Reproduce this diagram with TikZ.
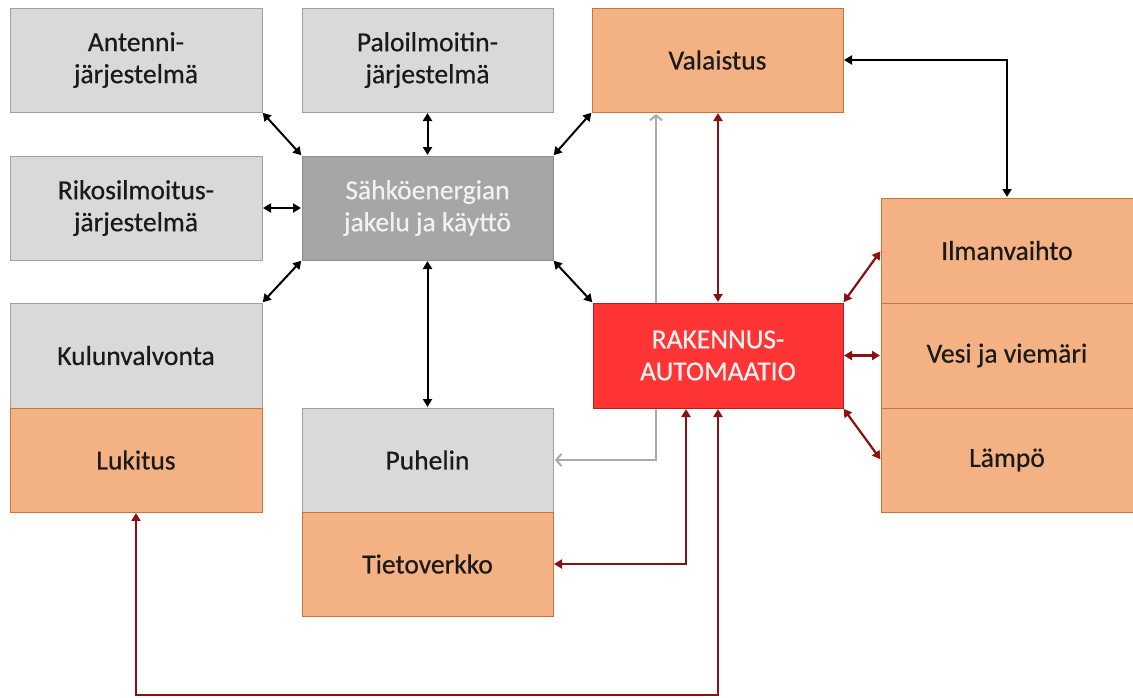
\documentclass[tikz,border=0pt]{standalone}
\usepackage{fontspec}
\setmainfont{Carlito}
\newfontfamily\labelfont{Carlito}[FakeBold=0.5]
\usetikzlibrary{arrows.meta}

\definecolor{boxgray}{HTML}{D9D9D9}
\definecolor{boxgrayline}{HTML}{A0A0A0}
\definecolor{darkgrayfill}{HTML}{A6A6A6}
\definecolor{darkgrayline}{HTML}{8C8C8C}
\definecolor{orangefill}{HTML}{F4B183}
\definecolor{orangeline}{HTML}{C9743A}
\definecolor{redfill}{HTML}{FF3535}
\definecolor{redline}{HTML}{B02020}
\definecolor{wine}{HTML}{8B1111}
\definecolor{linkgray}{HTML}{AAAAAA}
\definecolor{lighttext}{HTML}{F2F2F2}
\definecolor{darktext}{HTML}{1A1A1A}

\tikzset{
  unit/.style={rectangle, anchor=north west, inner sep=0pt, outer sep=0pt,
    line width=1pt, align=center, font=\labelfont\fontsize{27.5}{32}\selectfont,
    text=darktext},
  grayunit/.style={unit, fill=boxgray, draw=boxgrayline},
  orangeunit/.style={unit, fill=orangefill, draw=orangeline},
  powerunit/.style={unit, fill=darkgrayfill, draw=darkgrayline, text=lighttext},
  autounit/.style={unit, fill=redfill, draw=redline, text=lighttext},
  blacklink/.style={line width=2pt, black,
    {Triangle[length=8pt,width=9pt]}-{Triangle[length=8pt,width=9pt]}, shorten <=1pt, shorten >=1pt},
  winelink/.style={line width=2.2pt, wine,
    {Triangle[length=8pt,width=9pt]}-{Triangle[length=8pt,width=9pt]}, shorten <=1pt, shorten >=1pt},
  graylink/.style={line width=2pt, linkgray,
    {Straight Barb[length=5pt,width=12pt]}-{Straight Barb[length=5pt,width=12pt]}, shorten <=2pt, shorten >=2pt},
}

\begin{document}
\begin{tikzpicture}[x=1pt, y=-1pt]
\useasboundingbox (0,0) rectangle (1133,697);
\fill[white] (0,0) rectangle (1133,697);

% routing columns
\coordinate (gcol) at (656,0);
\coordinate (tcol) at (686,0);
\coordinate (vcol) at (718,0);
\coordinate (bot) at (0,695);

% left column
\node[grayunit, minimum width=252pt, minimum height=104pt] (ant) at (10,8) {Antenni-\\järjestelmä};
\node[grayunit, minimum width=252pt, minimum height=104pt] (rik) at (10,156) {Rikosilmoitus-\\järjestelmä};
\node[grayunit, minimum width=252pt, minimum height=105pt] (kul) at (10,303) {Kulunvalvonta};
\node[orangeunit, minimum width=252pt, minimum height=104pt] (luk) at (10,408) {Lukitus};

% middle column
\node[grayunit, minimum width=251pt, minimum height=104pt] (palo) at (302,8) {Paloilmoitin-\\järjestelmä};
\node[powerunit, minimum width=251pt, minimum height=104pt] (sah) at (302,156) {Sähköenergian\\jakelu ja käyttö};
\node[grayunit, minimum width=251pt, minimum height=104pt] (puh) at (302,408) {Puhelin};
\node[orangeunit, minimum width=251pt, minimum height=104pt] (tie) at (302,512) {Tietoverkko};

% right middle column
\node[orangeunit, minimum width=251pt, minimum height=104pt] (val) at (592,8) {Valaistus};

% gray link drawn before the automation box so the box covers it
\draw[graylink] (puh.east) -| (gcol |- val.south);

\node[autounit, minimum width=250pt, minimum height=105pt] (rak) at (593,303) {RAKENNUS-\\AUTOMAATIO};

% right column
\node[orangeunit, minimum width=252pt, minimum height=105pt] (ilm) at (881,198) {Ilmanvaihto};
\node[orangeunit, minimum width=252pt, minimum height=105pt] (vesi) at (881,303) {Vesi ja viemäri};
\node[orangeunit, minimum width=252pt, minimum height=104pt] (lam) at (881,408) {Lämpö};

% links of the power distribution box
\draw[blacklink] (ant.south east) -- (sah.north west);
\draw[blacklink] (palo.south) -- (sah.north);
\draw[blacklink] (val.south west) -- (sah.north east);
\draw[blacklink] (rik.east) -- (sah.west);
\draw[blacklink] (kul.north east) -- (sah.south west);
\draw[blacklink] (sah.south) -- (puh.north);
\draw[blacklink] (sah.south east) -- (rak.north west);
\draw[blacklink] (val.east) -| (ilm.north);

% links of the building automation box
\draw[winelink] (vcol |- val.south) -- (vcol |- rak.north);
\draw[winelink] (tie.east) -| (tcol |- rak.south);
\draw[winelink] (luk.south) -- (luk.south |- bot) -| (vcol |- rak.south);
\draw[winelink] (rak.north east) -- (ilm.west);
\draw[winelink] (rak.east) -- (vesi.west);
\draw[winelink] (rak.south east) -- (lam.west);
\end{tikzpicture}
\end{document}
